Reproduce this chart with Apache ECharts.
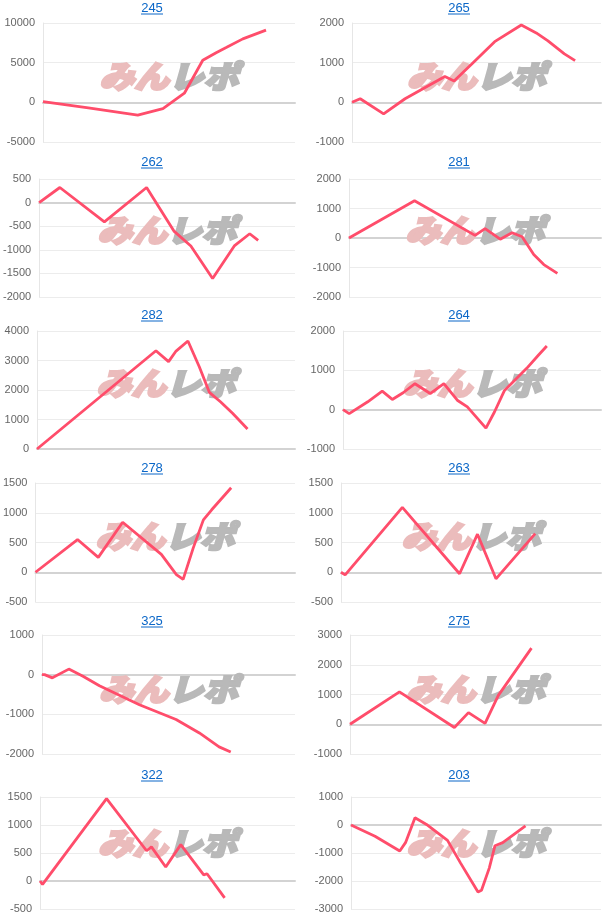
<!DOCTYPE html>
<html>
<head>
<meta charset="utf-8">
<script src="https://cdn.jsdelivr.net/npm/echarts@6/dist/echarts.min.js"></script>
<style>
  html, body { margin: 0; padding: 0; background: #fff; }
  #main { width: 604px; height: 918px; }
</style>
</head>
<body>
<div id="main"></div>
<script>
// machine numbers, one per panel (left/right, top to bottom)
const names = ['245', '265', '262', '281', '282', '264', '278', '263', '325', '275', '322', '203'];

// y axis ranges
const yMin  = [-5000, -1000, -2000, -2000,    0, -1000, -500, -500, -2000, -1000, -500, -3000];
const yMax  = [10000,  2000,   500,  2000, 4000,  2000, 1500, 1500,  1000,  3000, 1500,  1000];
const yStep = [ 5000,  1000,   500,  1000, 1000,  1000,  500,  500,  1000,  1000,  500,  1000];

// [progress %, balance] turning points
const s245 = [[0, 100], [18, -700], [37.6, -1600], [47.6, -800], [56.1, 1150], [63.4, 5300], [68.7, 6250], [72.7, 6900], [79.3, 8000], [88.5, 9100]];
const s265 = [[0, 0], [3.3, 90], [12.7, -290], [21.3, 90], [37.3, 650], [41, 540], [48, 960], [57.3, 1530], [68, 1950], [74, 1750], [78.7, 1550], [85.3, 1220], [89.6, 1050]];
const s262 = [[0, 0], [8.1, 320], [25.5, -410], [42, 320], [52.8, -610], [59.3, -920], [67.8, -1610], [76.4, -910], [82.3, -660], [85.6, -800]];
const s281 = [[0, 0], [26, 1260], [50, 90], [54, 320], [60, -40], [64.7, 180], [68.7, 40], [73.3, -560], [77.3, -900], [82.7, -1200]];
const s282 = [[0, 0], [46.1, 3330], [51, 2960], [53.9, 3320], [58.5, 3660], [62.9, 2790], [66.8, 1920], [71.1, 1600], [75.8, 1210], [81.6, 680]];
const s264 = [[0, 0], [2.4, -100], [9.6, 200], [15.2, 470], [19.1, 260], [23.3, 430], [27.9, 660], [33.8, 410], [39.1, 660], [44.3, 240], [48.2, 70], [55.4, -470], [58.7, -60], [62.6, 490], [71.2, 1050], [75.8, 1390], [79, 1620]];
const s278 = [[0, 0], [16.2, 550], [24.2, 250], [33.6, 840], [48.5, 300], [54.3, -40], [56.9, -120], [60.8, 410], [64.7, 880], [67.9, 1050], [75.4, 1420]];
const s263 = [[0, 0], [1.6, -45], [23.6, 1090], [45.6, -25], [52.5, 640], [59.6, -110], [74.7, 650]];
const s325 = [[0, 0], [1, 0], [4.1, -80], [10.6, 140], [16.2, -40], [22.7, -280], [38.5, -760], [53, -1130], [62.2, -1470], [70, -1820], [74.6, -1950]];
const s275 = [[0, 0], [19.7, 1090], [41.6, -110], [47.2, 390], [53.8, 30], [59.1, 970], [72.3, 2560]];
const s322 = [[0, 0], [1, -60], [26.1, 1470], [41.8, 540], [43.7, 610], [49.3, 250], [55.2, 650], [64.2, 110], [65.5, 130], [72.4, -300]];
const s203 = [[0, 0], [9.6, -400], [10.4, -380], [19.5, -930], [21.8, -630], [25.6, 260], [30.2, 20], [38.6, -550], [43.9, -1370], [50.8, -2390], [52.2, -2330], [55.3, -1540], [57.6, -740], [60.7, -630], [69.8, -30]];
const lines = [s245, s265, s262, s281, s282, s264, s278, s263, s325, s275, s322, s203];

// layout
const rowTop = [0, 154, 307, 460, 613, 767];
const gridTop = [23, 179, 331, 483, 635, 797];
const gridBottom = [142, 297, 449, 602, 754, 909];
const gridLeft = [43, 352, 39, 349, 37, 343, 35, 341, 42, 350, 40, 351];
const colRight = [295, 601];
const titleX = [152, 459];

const RED = '#ff4d6b';
const font = '"Liberation Sans", Arial, sans-serif';
const markFont = '"Noto Sans CJK JP"';

const grids = [], xAxes = [], yAxes = [], series = [], graphics = [];
names.forEach(function (name, i) {
  const col = i % 2, row = Math.floor(i / 2);
  const left = gridLeft[i], right = colRight[col];
  grids.push({
    left: left, top: gridTop[row],
    width: right - left, height: gridBottom[row] - gridTop[row]
  });
  xAxes.push({
    gridIndex: i, type: 'value', min: 0, max: 100,
    axisLabel: {show: false}, axisTick: {show: false}, splitLine: {show: false},
    axisLine: {show: true, onZero: true, lineStyle: {color: '#d3d3d3', width: 2}}
  });
  yAxes.push({
    gridIndex: i, type: 'value', min: yMin[i], max: yMax[i], interval: yStep[i],
    axisLabel: {fontSize: 11, color: '#666', margin: 8, fontFamily: font, formatter: v => String(v)},
    axisTick: {show: false},
    axisLine: {show: true, lineStyle: {color: '#e6e6e6'}},
    splitLine: {lineStyle: {color: '#ececec'}}
  });
  series.push({
    type: 'line', xAxisIndex: i, yAxisIndex: i, data: lines[i],
    showSymbol: false, silent: true, z: 5,
    lineStyle: {color: RED, width: 2.8}, itemStyle: {color: RED}
  });

  // watermark
  graphics.push({
    type: 'text', x: (left + right) / 2, y: rowTop[row] + 76, scaleX: 1.12, z: 1, silent: true,
    style: {
      text: '{a|みん}{b|レポ}', align: 'center', verticalAlign: 'middle',
      rich: {
        a: {fill: '#ebbcbc', stroke: '#ebbcbc', lineWidth: 2.5, fontSize: 31, fontWeight: 900, fontStyle: 'italic', fontFamily: markFont},
        b: {fill: '#b9b9b9', stroke: '#b9b9b9', lineWidth: 2.5, fontSize: 31, fontWeight: 900, fontStyle: 'italic', fontFamily: markFont}
      }
    }
  });
  // title link with underline
  const tx = titleX[col], ty = rowTop[row] + 8;
  graphics.push({
    type: 'text', x: tx, y: ty, silent: true,
    style: {text: name, fill: '#0b67c8', fontSize: 13, fontFamily: font, align: 'center', verticalAlign: 'middle'}
  });
  graphics.push({
    type: 'line', silent: true,
    shape: {x1: tx - 11, y1: ty + 6, x2: tx + 11, y2: ty + 6},
    style: {stroke: '#0b67c8', lineWidth: 1}
  });
});

const myChart = echarts.init(document.getElementById('main'));
myChart.setOption({
  animation: false,
  grid: grids,
  xAxis: xAxes,
  yAxis: yAxes,
  series: series,
  graphic: graphics
});
</script>
</body>
</html>
